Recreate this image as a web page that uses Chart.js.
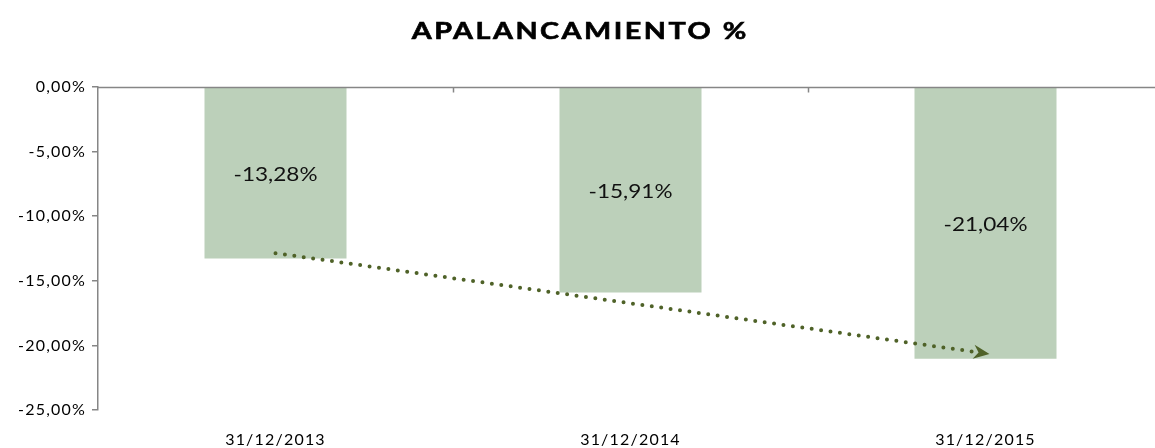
<!DOCTYPE html>
<html lang="es">
<head>
  <meta charset="UTF-8">
  <title>Apalancamiento %</title>
  <style>
    html, body { margin: 0; padding: 0; background: #fff; overflow: hidden; }
    .wrap { width: 1163px; height: 448px; }
  </style>
</head>
<body>
  <div class="wrap"><canvas id="grafico"></canvas></div>

  <script src="https://cdn.jsdelivr.net/npm/chart.js"></script>
  <script>
    // datos
    const categorias = ['31/12/2013', '31/12/2014', '31/12/2015'];
    const apalancamiento = [-13.28, -15.91, -21.04];
    // linea de tendencia (extremos)
    const tendencia = [-12.86, null, -20.62];
    const ticksY = [0, -5, -10, -15, -20, -25];
    const titulo = 'APALANCAMIENTO %';

    const colorBarra = '#BCD0BA';
    const colorTendencia = '#4F6228';
    const colorEje = '#868686';
    const fuente = 'Lato, "Open Sans", sans-serif';

    function fmt(v) {
      return v.toFixed(2).replace('.', ',') + '%';
    }

    // texto ensanchado a lo horizontal, como en el original
    function textoAncho(ctx, txt, x, y, escala) {
      ctx.save();
      ctx.translate(x, y);
      ctx.scale(escala, 1);
      ctx.fillText(txt, 0, 0);
      ctx.restore();
    }

    // los ticks del original son algo mas anchos
    const espaciado = {
      id: 'espaciado',
      beforeLayout(chart) { chart.ctx.letterSpacing = '1.2px'; },
      beforeDraw(chart) { chart.ctx.letterSpacing = '1.2px'; }
    };

    const tituloPlugin = {
      id: 'tituloPlugin',
      afterDraw(chart) {
        const ctx = chart.ctx;
        ctx.save();
        ctx.letterSpacing = '2px';
        ctx.font = 'bold 23px ' + fuente;
        ctx.fillStyle = '#000';
        ctx.textAlign = 'center';
        ctx.textBaseline = 'middle';
        ctx.lineWidth = 0.6;
        ctx.strokeStyle = '#000';
        ctx.translate(579, 32);
        ctx.scale(1.25, 1);
        ctx.fillText(titulo, 1, 0);
        ctx.strokeText(titulo, 1, 0);
        ctx.restore();
      }
    };

    // linea del eje en 0 con marcas entre categorias
    const lineaCero = {
      id: 'lineaCero',
      afterDraw(chart) {
        const ctx = chart.ctx;
        const x = chart.scales.x, y = chart.scales.y;
        const y0 = Math.round(y.getPixelForValue(0)) + 0.5;
        ctx.save();
        ctx.strokeStyle = colorEje;
        ctx.lineWidth = 1.5;
        ctx.beginPath();
        ctx.moveTo(chart.chartArea.left, y0);
        ctx.lineTo(chart.chartArea.right, y0);
        for (let i = 0; i < categorias.length - 1; i++) {
          const xm = Math.round((x.getPixelForValue(i) + x.getPixelForValue(i + 1)) / 2) + 0.5;
          ctx.moveTo(xm, y0);
          ctx.lineTo(xm, y0 + 5);
        }
        ctx.stroke();
        ctx.restore();
      }
    };

    // etiquetas dentro de las barras
    const etiquetas = {
      id: 'etiquetas',
      afterDatasetsDraw(chart) {
        const ctx = chart.ctx;
        const meta = chart.getDatasetMeta(0);
        ctx.save();
        ctx.letterSpacing = '0px';
        ctx.font = '18.5px ' + fuente;
        ctx.fillStyle = '#111';
        ctx.textAlign = 'center';
        ctx.textBaseline = 'middle';
        meta.data.forEach((bar, i) => {
          const yc = (bar.y + bar.base) / 2 + 2;
          textoAncho(ctx, fmt(apalancamiento[i]), bar.x, yc, 1.22);
        });
        ctx.restore();
      }
    };

    // punta de flecha al final de la tendencia
    const flecha = {
      id: 'flecha',
      afterDatasetsDraw(chart) {
        const pts = chart.getDatasetMeta(1).data.filter((p, i) => tendencia[i] !== null);
        if (pts.length < 2) return;
        const a = pts[0], b = pts[pts.length - 1];
        const ang = Math.atan2(b.y - a.y, b.x - a.x);
        const ctx = chart.ctx;
        ctx.save();
        ctx.translate(b.x, b.y);
        ctx.rotate(ang);
        ctx.fillStyle = colorTendencia;
        ctx.beginPath();
        ctx.moveTo(4, 0);
        ctx.lineTo(-12, -7);
        ctx.lineTo(-7, 0);
        ctx.lineTo(-12, 7);
        ctx.closePath();
        ctx.fill();
        ctx.restore();
      }
    };

    new Chart(document.getElementById('grafico'), {
      data: {
        labels: categorias,
        datasets: [
          {
            type: 'bar',
            data: apalancamiento,
            backgroundColor: colorBarra,
            barPercentage: 0.4,
            categoryPercentage: 1,
            order: 2
          },
          {
            type: 'line',
            data: tendencia,
            spanGaps: true,
            borderColor: colorTendencia,
            borderWidth: 4,
            borderDash: [0, 9.5],
            borderCapStyle: 'round',
            pointRadius: 0,
            fill: false,
            order: 1
          }
        ]
      },
      options: {
        responsive: true,
        maintainAspectRatio: false,
        animation: false,
        layout: { padding: { left: 0, right: 0, top: 87, bottom: 0 } },
        plugins: {
          legend: { display: false },
          tooltip: { enabled: false },
          title: { display: false }
        },
        scales: {
          x: {
            afterFit(scale) { scale.height = 38; },
            grid: { display: false, drawTicks: false },
            border: { display: false },
            ticks: {
              color: '#000',
              padding: 20,
              font: { family: fuente, size: 16 }
            }
          },
          y: {
            min: -25,
            max: 0,
            afterFit(scale) { scale.width = 98; },
            afterBuildTicks(scale) { scale.ticks = ticksY.map(v => ({ value: v })); },
            grid: {
              drawOnChartArea: false,
              drawTicks: true,
              tickLength: 6,
              color: colorEje,
              lineWidth: 1.5
            },
            border: { display: true, color: colorEje, width: 1.5 },
            ticks: {
              color: '#000',
              padding: 6,
              font: { family: fuente, size: 16 },
              callback: v => fmt(v)
            }
          }
        }
      },
      plugins: [espaciado, tituloPlugin, lineaCero, etiquetas, flecha]
    });
  </script>
</body>
</html>
